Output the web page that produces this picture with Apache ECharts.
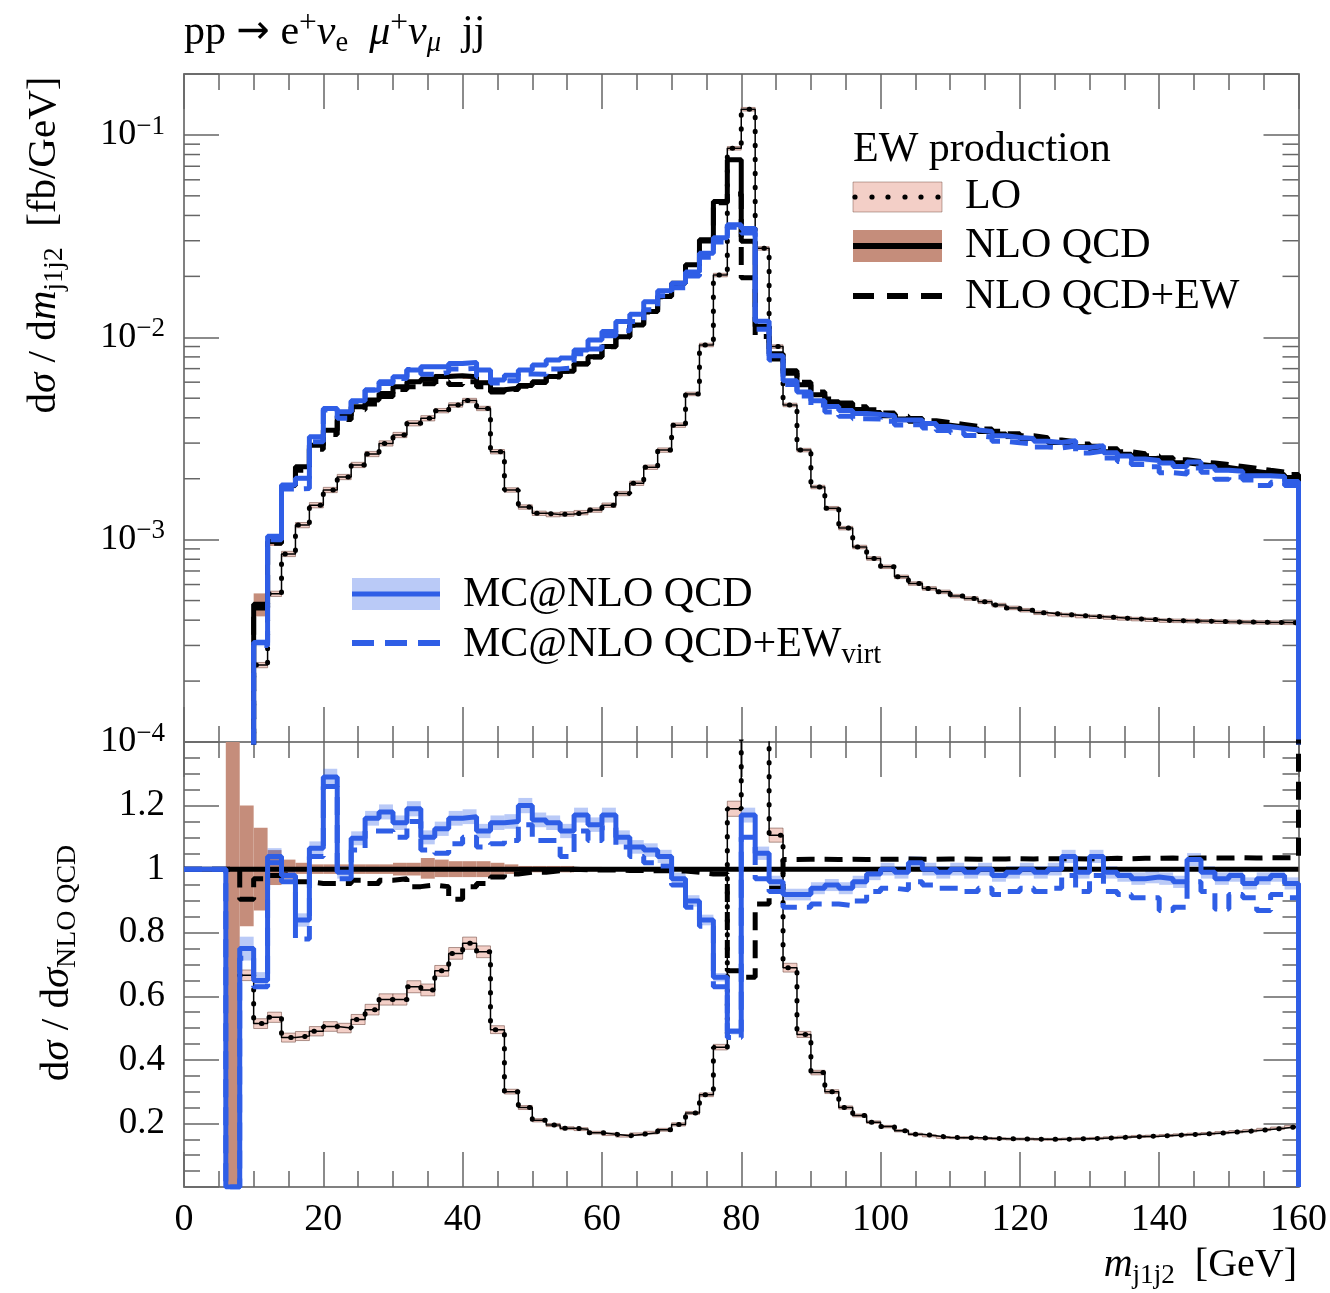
<!DOCTYPE html>
<html>
<head>
<meta charset="utf-8">
<script src="https://cdn.jsdelivr.net/npm/echarts@6/dist/echarts.min.js"></script>
<style>
  html, body { margin: 0; padding: 0; background: #fff; }
  #chart { width: 1330px; height: 1293px; }
</style>
</head>
<body>
<div id="chart"></div>
<script>
// ---------------------------------------------------------------------------
// m_j1j2 distribution, 2 GeV bins from 0 to 160 GeV
// ---------------------------------------------------------------------------
const binEdges = [0,2,4,6,8,10,12,14,16,18,20,22,24,26,28,30,32,34,36,38,40,42,44,46,48,50,52,54,56,58,
  60,62,64,66,68,70,72,74,76,78,80,82,84,86,88,90,92,94,96,98,100,102,104,106,108,110,112,114,116,118,
  120,122,124,126,128,130,132,134,136,138,140,142,144,146,148,150,152,154,156,158,160];

const xTickValues = [0, 20, 40, 60, 80, 100, 120, 140, 160];

// dσ/dm [fb/GeV] per bin (null = empty bin)
const nloQcd = [
  null, null, null, null, null, 4.8e-4, 9.8e-4, 1.85e-3, 2.29e-3, 2.93e-3,
  3.47e-3, 4.1e-3, 4.54e-3, 4.9e-3, 5.28e-3, 5.69e-3, 6.03e-3, 6.2e-3, 6.4e-3, 6.45e-3,
  6.38e-3, 5.96e-3, 5.5e-3, 5.6e-3, 5.78e-3, 6.03e-3, 6.4e-3, 6.8e-3, 7.4e-3, 8.02e-3,
  9.0e-3, 1.007e-2, 1.15e-2, 1.34e-2, 1.59e-2, 1.85e-2, 2.28e-2, 3.03e-2, 4.69e-2, 7.54e-2,
  2.98e-2, 1.13e-2, 8.3e-3, 6.64e-3, 5.82e-3, 5.2e-3, 4.8e-3, 4.6e-3, 4.4e-3, 4.25e-3,
  4.1e-3, 3.95e-3, 3.85e-3, 3.75e-3, 3.68e-3, 3.6e-3, 3.52e-3, 3.42e-3, 3.33e-3, 3.24e-3,
  3.16e-3, 3.09e-3, 3.02e-3, 2.96e-3, 2.88e-3, 2.8e-3, 2.72e-3, 2.64e-3, 2.58e-3, 2.52e-3,
  2.46e-3, 2.4e-3, 2.35e-3, 2.31e-3, 2.27e-3, 2.22e-3, 2.17e-3, 2.13e-3, 2.09e-3, 2.03e-3
];
const nloQcdEw = [
  null, null, null, null, null, 4.6e-4, 9.6e-4, 1.82e-3, 2.2e-3, 2.8e-3,
  3.31e-3, 3.92e-3, 4.38e-3, 4.68e-3, 5.1e-3, 5.52e-3, 5.7e-3, 5.9e-3, 6.05e-3, 5.84e-3,
  6.03e-3, 5.69e-3, 5.36e-3, 5.52e-3, 5.72e-3, 5.97e-3, 6.37e-3, 6.8e-3, 7.38e-3, 8.0e-3,
  8.97e-3, 1.004e-2, 1.146e-2, 1.335e-2, 1.585e-2, 1.84e-2, 2.26e-2, 2.99e-2, 4.62e-2, 5.1e-2,
  1.97e-2, 1.01e-2, 7.8e-3, 6.84e-3, 6.0e-3, 5.36e-3, 4.95e-3, 4.74e-3, 4.53e-3, 4.38e-3,
  4.23e-3, 4.07e-3, 3.97e-3, 3.87e-3, 3.79e-3, 3.71e-3, 3.63e-3, 3.52e-3, 3.43e-3, 3.34e-3,
  3.26e-3, 3.19e-3, 3.11e-3, 3.05e-3, 2.97e-3, 2.89e-3, 2.81e-3, 2.72e-3, 2.66e-3, 2.6e-3,
  2.54e-3, 2.48e-3, 2.43e-3, 2.39e-3, 2.35e-3, 2.3e-3, 2.25e-3, 2.2e-3, 2.16e-3, 2.1e-3
];
const lo = [
  null, null, null, null, null, 2.4e-4, 5.4e-4, 8.5e-4, 1.18e-3, 1.48e-3,
  1.76e-3, 2.04e-3, 2.34e-3, 2.65e-3, 2.99e-3, 3.29e-3, 3.76e-3, 3.98e-3, 4.34e-3, 4.63e-3,
  4.87e-3, 4.45e-3, 2.72e-3, 1.76e-3, 1.45e-3, 1.35e-3, 1.33e-3, 1.34e-3, 1.36e-3, 1.4e-3,
  1.48e-3, 1.69e-3, 1.9e-3, 2.28e-3, 2.77e-3, 3.68e-3, 5.25e-3, 9.16e-3, 2.03e-2, 8.59e-2,
  0.134, 2.75e-2, 9.0e-3, 4.63e-3, 2.77e-3, 1.82e-3, 1.43e-3, 1.14e-3, 9.2e-4, 8.07e-4,
  7.34e-4, 6.55e-4, 6.07e-4, 5.74e-4, 5.52e-4, 5.26e-4, 5.12e-4, 4.93e-4, 4.75e-4, 4.6e-4,
  4.48e-4, 4.35e-4, 4.28e-4, 4.24e-4, 4.19e-4, 4.16e-4, 4.12e-4, 4.08e-4, 4.05e-4, 4.02e-4,
  3.98e-4, 3.97e-4, 3.96e-4, 3.95e-4, 3.93e-4, 3.92e-4, 3.91e-4, 3.9e-4, 3.89e-4, 3.88e-4
];
const mcNloQcd = [
  null, null, null, null, null, 3.1e-4, 1.04e-3, 1.86e-3, 2.01e-3, 3.22e-3,
  4.45e-3, 4.29e-3, 4.86e-3, 5.49e-3, 6.03e-3, 6.38e-3, 6.89e-3, 7.16e-3, 7.16e-3, 7.43e-3,
  7.5e-3, 6.9e-3, 6.15e-3, 6.5e-3, 6.9e-3, 7.3e-3, 7.72e-3, 7.9e-3, 8.65e-3, 9.7e-3,
  1.067e-2, 1.195e-2, 1.3e-2, 1.5e-2, 1.7e-2, 1.85e-2, 2.1e-2, 2.6e-2, 3.1e-2, 3.6e-2,
  3.45e-2, 1.2e-2, 8.1e-3, 6.1e-3, 5.36e-3, 4.85e-3, 4.55e-3, 4.35e-3, 4.2e-3, 4.15e-3,
  4.1e-3, 3.9e-3, 3.9e-3, 3.75e-3, 3.62e-3, 3.55e-3, 3.48e-3, 3.42e-3, 3.26e-3, 3.2e-3,
  3.16e-3, 3.06e-3, 3.02e-3, 3.08e-3, 2.85e-3, 2.91e-3, 2.69e-3, 2.59e-3, 2.5e-3, 2.46e-3,
  2.39e-3, 2.3e-3, 2.42e-3, 2.29e-3, 2.2e-3, 2.18e-3, 2.07e-3, 2.07e-3, 2.05e-3, 1.94e-3
];
const mcNloQcdEwVirt = [
  null, null, null, null, null, 3.0e-4, 1.0e-3, 1.78e-3, 1.79e-3, 3.05e-3,
  4.37e-3, 3.98e-3, 4.81e-3, 5.49e-3, 5.91e-3, 6.26e-3, 6.93e-3, 6.57e-3, 6.72e-3, 6.97e-3,
  7.02e-3, 6.38e-3, 5.94e-3, 6.1e-3, 6.59e-3, 6.57e-3, 6.98e-3, 7.07e-3, 8.29e-3, 8.74e-3,
  1.017e-2, 1.077e-2, 1.196e-2, 1.367e-2, 1.606e-2, 1.758e-2, 2.006e-2, 2.485e-2, 2.955e-2, 3.5e-2,
  3.28e-2, 1.096e-2, 7.72e-3, 5.84e-3, 5.12e-3, 4.63e-3, 4.27e-3, 4.07e-3, 3.96e-3, 3.95e-3,
  3.85e-3, 3.69e-3, 3.7e-3, 3.56e-3, 3.46e-3, 3.38e-3, 3.27e-3, 3.21e-3, 3.06e-3, 3.01e-3,
  2.97e-3, 2.87e-3, 2.84e-3, 2.9e-3, 2.68e-3, 2.74e-3, 2.53e-3, 2.43e-3, 2.35e-3, 2.29e-3,
  2.14e-3, 2.11e-3, 2.26e-3, 2.15e-3, 1.99e-3, 2.04e-3, 1.97e-3, 1.85e-3, 1.92e-3, 1.85e-3
];

// ratios to NLO QCD
const loRatio = [
  null, null, null, null, 0.666, 0.514, 0.534, 0.47, 0.475, 0.49,
  0.505, 0.50, 0.527, 0.558, 0.59, 0.59, 0.63, 0.62, 0.68, 0.735,
  0.767, 0.74, 0.495, 0.30, 0.25, 0.21, 0.195, 0.185, 0.182, 0.171,
  0.166, 0.161, 0.166, 0.171, 0.18, 0.197, 0.233, 0.29, 0.44, 1.19,
  4.5, 2.4, 1.107, 0.69, 0.48, 0.36, 0.30, 0.25, 0.225, 0.204,
  0.19, 0.177, 0.166, 0.161, 0.156, 0.155, 0.155, 0.153, 0.152, 0.151,
  0.151, 0.150, 0.150, 0.151, 0.152, 0.153, 0.155, 0.157, 0.159, 0.160,
  0.162, 0.164, 0.166, 0.168, 0.171, 0.174, 0.177, 0.181, 0.185, 0.190
];
const nloRatio = [
  1,1,1,1,1,1,1,1,1,1, 1,1,1,1,1,1,1,1,1,1, 1,1,1,1,1,1,1,1,1,1, 1,1,1,1,1,1,1,1,1,1,
  1,1,1,1,1,1,1,1,1,1, 1,1,1,1,1,1,1,1,1,1, 1,1,1,1,1,1,1,1,1,1, 1,1,1,1,1,1,1,1,1,1
];
const nloEwRatio = [
  1, 1, 1, 1, 0.905, 0.97, 0.98, 0.985, 0.96, 0.955,
  0.955, 0.955, 0.965, 0.955, 0.965, 0.97, 0.945, 0.95, 0.945, 0.905,
  0.945, 0.955, 0.975, 0.985, 0.99, 0.99, 0.995, 1.0, 0.998, 0.997,
  0.997, 0.996, 0.996, 0.995, 0.995, 0.994, 0.99, 0.985, 0.985, 0.68,
  0.66, 0.89, 0.94, 1.03, 1.031, 1.031, 1.03, 1.031, 1.03, 1.031,
  1.031, 1.032, 1.031, 1.031, 1.032, 1.032, 1.031, 1.032, 1.032, 1.033,
  1.032, 1.033, 1.033, 1.033, 1.032, 1.033, 1.034, 1.033, 1.034, 1.034,
  1.035, 1.034, 1.035, 1.035, 1.035, 1.036, 1.035, 1.036, 1.036, 1.036
];
const mcRatio = [
  1, 1, 1, 0, 0.75, 0.65, 1.04, 0.98, 0.84, 1.066,
  1.29, 0.99, 1.097, 1.16, 1.18, 1.146, 1.19, 1.10, 1.127, 1.16,
  1.165, 1.12, 1.146, 1.15, 1.2, 1.155, 1.146, 1.12, 1.17, 1.14,
  1.17, 1.10, 1.07, 1.06, 1.04, 0.97, 0.90, 0.84, 0.66, 0.49,
  1.17, 1.05, 0.96, 0.92, 0.92, 0.94, 0.95, 0.94, 0.96, 0.985,
  1.0, 0.99, 1.02, 1.0, 0.99, 1.0, 0.99, 1.0, 0.98, 0.99,
  1.0, 0.99, 1.0, 1.04, 0.99, 1.04, 0.99, 0.98, 0.97, 0.975,
  0.97, 0.96, 1.03, 0.99, 0.97, 0.98, 0.955, 0.97, 0.98, 0.955
];
const mcEwRatio = [
  1, 1, 1, 0, 0.72, 0.63, 1.02, 0.96, 0.78, 1.04,
  1.26, 0.97, 1.06, 1.12, 1.12, 1.10, 1.15, 1.06, 1.05, 1.08,
  1.10, 1.07, 1.08, 1.09, 1.14, 1.09, 1.09, 1.04, 1.12, 1.09,
  1.13, 1.07, 1.04, 1.02, 1.01, 0.95, 0.88, 0.82, 0.63, 0.47,
  1.10, 0.97, 0.93, 0.88, 0.88, 0.89, 0.89, 0.885, 0.90, 0.93,
  0.94, 0.935, 0.96, 0.95, 0.94, 0.94, 0.93, 0.94, 0.92, 0.93,
  0.94, 0.93, 0.94, 0.98, 0.93, 0.98, 0.93, 0.92, 0.91, 0.91,
  0.87, 0.88, 0.96, 0.93, 0.875, 0.92, 0.91, 0.87, 0.92, 0.91
];

// NLO QCD scale band, relative to NLO QCD
const nloBandLo = [
  null, null, null, 0, 0.82, 0.87, 0.95, 0.97, 0.985, 0.985,
  0.985, 0.985, 0.985, 0.985, 0.985, 0.98, 0.98, 0.97, 0.975, 0.975,
  0.975, 0.975, 0.98, 0.985, 0.99, 0.99, 0.99, 0.99, 0.993, 0.993,
  0.995, 0.995, 0.995, 0.995, 0.995, 0.995, 0.995, 0.995, 0.995, 0.995,
  0.995, 0.995, 0.995, 0.995, 0.995, 0.995, 0.995, 0.995, 0.995, 0.995,
  0.995, 0.995, 0.995, 0.995, 0.995, 0.995, 0.995, 0.995, 0.995, 0.995,
  0.995, 0.995, 0.995, 0.995, 0.995, 0.995, 0.995, 0.995, 0.995, 0.995,
  0.995, 0.995, 0.995, 0.995, 0.995, 0.995, 0.995, 0.995, 0.995, 0.995
];
const nloBandHi = [
  null, null, null, 1.4, 1.2, 1.13, 1.06, 1.03, 1.02, 1.015,
  1.015, 1.015, 1.015, 1.015, 1.015, 1.02, 1.02, 1.035, 1.03, 1.025,
  1.025, 1.025, 1.02, 1.015, 1.01, 1.01, 1.01, 1.01, 1.007, 1.007,
  1.005, 1.005, 1.005, 1.005, 1.005, 1.005, 1.005, 1.005, 1.005, 1.005,
  1.005, 1.005, 1.005, 1.005, 1.005, 1.005, 1.005, 1.005, 1.005, 1.005,
  1.005, 1.005, 1.005, 1.005, 1.005, 1.005, 1.005, 1.005, 1.005, 1.005,
  1.005, 1.005, 1.005, 1.005, 1.005, 1.005, 1.005, 1.005, 1.005, 1.005,
  1.005, 1.005, 1.005, 1.005, 1.005, 1.005, 1.005, 1.005, 1.005, 1.005
];
// relative half-widths of the LO and MC@NLO bands
const loBandRel = [
  null, null, null, null, 0.025, 0.03, 0.03, 0.03, 0.03, 0.03,
  0.03, 0.03, 0.03, 0.03, 0.03, 0.03, 0.03, 0.03, 0.025, 0.025,
  0.025, 0.025, 0.025, 0.025, 0.025, 0.025, 0.025, 0.025, 0.025, 0.025,
  0.025, 0.025, 0.025, 0.025, 0.025, 0.025, 0.02, 0.02, 0.02, 0.02,
  0.02, 0.02, 0.02, 0.02, 0.02, 0.02, 0.02, 0.02, 0.02, 0.02,
  0.02, 0.02, 0.02, 0.02, 0.02, 0.02, 0.02, 0.02, 0.02, 0.02,
  0.02, 0.02, 0.02, 0.02, 0.02, 0.02, 0.02, 0.02, 0.02, 0.02,
  0.02, 0.02, 0.02, 0.02, 0.02, 0.02, 0.02, 0.02, 0.02, 0.02
];
const mcBandRel = [
  null, null, null, null, 0.05, 0.04, 0.025, 0.025, 0.025, 0.02,
  0.02, 0.02, 0.02, 0.02, 0.02, 0.02, 0.02, 0.02, 0.02, 0.02,
  0.02, 0.02, 0.02, 0.02, 0.02, 0.02, 0.02, 0.02, 0.02, 0.02,
  0.02, 0.02, 0.02, 0.02, 0.02, 0.02, 0.02, 0.02, 0.02, 0.02,
  0.02, 0.02, 0.02, 0.02, 0.02, 0.02, 0.02, 0.02, 0.02, 0.02,
  0.02, 0.02, 0.02, 0.02, 0.02, 0.02, 0.02, 0.02, 0.02, 0.02,
  0.02, 0.02, 0.02, 0.02, 0.02, 0.02, 0.02, 0.02, 0.02, 0.02,
  0.02, 0.02, 0.02, 0.02, 0.02, 0.02, 0.02, 0.02, 0.02, 0.02
];

// minor ticks of the logarithmic axis
const logMinorTicks = [2e-4,3e-4,4e-4,5e-4,6e-4,7e-4,8e-4,9e-4, 2e-3,3e-3,4e-3,5e-3,6e-3,7e-3,8e-3,9e-3,
  2e-2,3e-2,4e-2,5e-2,6e-2,7e-2,8e-2,9e-2];

// ---------------------------------------------------------------------------
// styling
// ---------------------------------------------------------------------------
const FONT = '"Liberation Serif", "DejaVu Serif", serif';
const FRAME = '#808080';
const TICK = '#666666';
const BLUE = '#2f5ee6';
const BROWN = '#c58d7b';
const PINK = '#f3cfc7';
const LIGHT_BLUE = 'rgba(47,94,230,0.33)';
const LOG_FLOOR = 1e-7;   // empty bins fall below the lower edge of the log axis

// histogram outline: one point per left bin edge, plus the right edge (and optional drop)
function histPoints(values, empty, close) {
  const n = values.length;
  const pts = values.map((v, i) => [binEdges[i], v == null ? empty : v]);
  pts.push([binEdges[n], values[n - 1]]);
  if (close !== undefined) pts.push([binEdges[n], close]);
  return pts;
}

function histLine(data, axis, lineStyle) {
  return {
    type: 'line', xAxisIndex: axis, yAxisIndex: axis, data,
    step: 'end', symbol: 'none', showSymbol: false, clip: true,
    silent: true, animation: false, lineStyle
  };
}

function bandSeries(low, high, axis, fill, stroke) {
  const data = [];
  low.forEach((l, i) => {
    if (l != null && high[i] != null) data.push([binEdges[i], binEdges[i + 1], l, high[i]]);
  });
  return {
    type: 'custom', xAxisIndex: axis, yAxisIndex: axis, data, silent: true, animation: false,
    encode: { x: [0, 1], y: [2, 3] },
    renderItem(params, api) {
      const cs = params.coordSys;
      const a = api.coord([api.value(0), api.value(3)]);
      const b = api.coord([api.value(1), api.value(2)]);
      const top = Math.max(cs.y, Math.min(a[1], b[1]));
      const bot = Math.min(cs.y + cs.height, Math.max(a[1], b[1]));
      if (!(bot > top)) return null;
      return {
        type: 'rect',
        shape: { x: a[0], y: top, width: b[0] - a[0], height: bot - top },
        style: { fill, stroke: stroke || null, lineWidth: stroke ? 1 : 0 }
      };
    }
  };
}

// derived band edges
const scaleBy = (vals, f) => vals.map((v, i) => (v == null || f[i] == null) ? null : v * f[i]);
const spread = (vals, rel, sign) => vals.map((v, i) => (v == null || rel[i] == null) ? null : v * (1 + sign * rel[i]));

const solidBlack = { color: '#000', width: 5 };
const dashedBlack = { color: '#000', width: 5, type: [18, 10] };
const solidBlue = { color: BLUE, width: 5 };
const dashedBlue = { color: BLUE, width: 5, type: [18, 10] };
const thinBlack = { color: '#000', width: 1.5 };
const dotsBlack = { color: '#000', width: 5, type: [0.5, 13.5], cap: 'round' };

const series = [
  // upper panel: absolute distributions
  bandSeries(scaleBy(nloQcd, nloBandLo), scaleBy(nloQcd, nloBandHi), 0, BROWN),
  bandSeries(spread(lo, loBandRel, -1), spread(lo, loBandRel, 1), 0, PINK, 'rgba(110,70,60,0.55)'),
  bandSeries(spread(mcNloQcd, mcBandRel, -1), spread(mcNloQcd, mcBandRel, 1), 0, LIGHT_BLUE),
  histLine(histPoints(lo, LOG_FLOOR, LOG_FLOOR), 0, thinBlack),
  histLine(histPoints(lo, LOG_FLOOR, LOG_FLOOR), 0, dotsBlack),
  histLine(histPoints(nloQcd, LOG_FLOOR, LOG_FLOOR), 0, solidBlack),
  histLine(histPoints(nloQcdEw, LOG_FLOOR, LOG_FLOOR), 0, dashedBlack),
  histLine(histPoints(mcNloQcd, LOG_FLOOR, LOG_FLOOR), 0, solidBlue),
  histLine(histPoints(mcNloQcdEwVirt, LOG_FLOOR, LOG_FLOOR), 0, dashedBlue),

  // lower panel: ratios to NLO QCD
  bandSeries(nloBandLo, nloBandHi, 2, BROWN),
  bandSeries(spread(loRatio, loBandRel, -1), spread(loRatio, loBandRel, 1), 2, PINK, 'rgba(110,70,60,0.55)'),
  bandSeries(spread(mcRatio, mcBandRel, -1), spread(mcRatio, mcBandRel, 1), 2, LIGHT_BLUE),
  histLine(histPoints(loRatio, null), 2, thinBlack),
  histLine(histPoints(loRatio, null), 2, dotsBlack),
  histLine(histPoints(nloRatio, null), 2, solidBlack),
  histLine(histPoints(nloEwRatio, null, 2), 2, dashedBlack),
  histLine(histPoints(mcRatio, null, 0), 2, solidBlue),
  histLine(histPoints(mcEwRatio, null, 0), 2, dashedBlue),

  // minor ticks (2..9 per decade) on both sides of the log axis
  {
    type: 'custom', xAxisIndex: 0, yAxisIndex: 0, silent: true, animation: false,
    data: logMinorTicks.map(v => [80, v]), encode: { x: 0, y: 1 },
    renderItem(params, api) {
      const cs = params.coordSys;
      const y = api.coord([80, api.value(1)])[1];
      const st = { stroke: TICK, lineWidth: 1.5 };
      return {
        type: 'group', children: [
          { type: 'line', shape: { x1: cs.x, y1: y, x2: cs.x + 16, y2: y }, style: st },
          { type: 'line', shape: { x1: cs.x + cs.width, y1: y, x2: cs.x + cs.width - 16, y2: y }, style: st }
        ]
      };
    }
  }
];

// ---------------------------------------------------------------------------
// axes
// ---------------------------------------------------------------------------
const lineCfg = { show: true, onZero: false, lineStyle: { color: FRAME, width: 2 } };
const tickCfg = { show: true, inside: true, length: 35, lineStyle: { color: TICK, width: 1.5 } };
const minorCfg = { show: true, splitNumber: 4, length: 16, lineStyle: { color: TICK, width: 1.5 } };

function xAxisCfg(grid, position, withLabels) {
  return {
    type: 'value', gridIndex: grid, position, min: xTickValues[0], max: xTickValues[xTickValues.length - 1],
    interval: xTickValues[1] - xTickValues[0],
    axisLine: lineCfg, axisTick: tickCfg, minorTick: minorCfg,
    splitLine: { show: false }, minorSplitLine: { show: false },
    axisLabel: withLabels
      ? { show: true, margin: 14, color: '#000', fontFamily: FONT, fontSize: 38 }
      : { show: false }
  };
}

function logAxisCfg(position, withLabels) {
  return {
    type: 'log', logBase: 10, gridIndex: 0, position, min: 1e-4, max: 0.2,
    axisLine: lineCfg, axisTick: tickCfg, minorTick: { show: false },
    splitLine: { show: false }, minorSplitLine: { show: false },
    axisLabel: withLabels ? {
      show: true, margin: 19, color: '#000',
      formatter: v => {
        const e = Math.log10(v), r = Math.round(e);
        if (Math.abs(e - r) > 1e-6) return '';
        return '{b|10}{s|\u2212' + (-r) + '}';
      },
      rich: {
        b: { fontFamily: FONT, fontSize: 36, lineHeight: 44, color: '#000' },
        s: { fontFamily: FONT, fontSize: 27, lineHeight: 28, verticalAlign: 'top', color: '#000' }
      }
    } : { show: false }
  };
}

function ratioAxisCfg(position, withLabels) {
  return {
    type: 'value', gridIndex: 1, position, min: 0, max: 1.4, interval: 0.2,
    axisLine: lineCfg, axisTick: tickCfg, minorTick: minorCfg,
    splitLine: { show: false }, minorSplitLine: { show: false },
    axisLabel: withLabels ? {
      show: true, margin: 19, color: '#000', fontFamily: FONT, fontSize: 37,
      formatter: v => (v < 0.01 || v > 1.39) ? '' : (Math.abs(v - 1) < 1e-9 ? '1' : v.toFixed(1))
    } : { show: false }
  };
}

// ---------------------------------------------------------------------------
// texts and legends
// ---------------------------------------------------------------------------
function richSet(size) {
  return {
    t: { fontFamily: FONT, fontSize: size, lineHeight: size * 1.2, color: '#000' },
    i: { fontFamily: FONT, fontSize: size, fontStyle: 'italic', lineHeight: size * 1.2, color: '#000' },
    a: { fontFamily: '"DejaVu Sans", sans-serif', fontSize: size * 0.95, lineHeight: size * 1.2, color: '#000' },
    s: { fontFamily: FONT, fontSize: size * 0.68, lineHeight: size * 0.55, verticalAlign: 'bottom', color: '#000' },
    si: { fontFamily: FONT, fontSize: size * 0.68, fontStyle: 'italic', lineHeight: size * 0.55, verticalAlign: 'bottom', color: '#000' },
    p: { fontFamily: FONT, fontSize: size * 0.75, lineHeight: size * 0.8, verticalAlign: 'top', color: '#000' }
  };
}

function label(x, y, text, size, align, rotation) {
  return {
    type: 'text', x, y, rotation: rotation || 0, z: 100, silent: true,
    style: { text, rich: richSet(size), fontFamily: FONT, fontSize: size, align: align || 'left', verticalAlign: 'middle', fill: '#000' }
  };
}

const legendDots = [855, 872, 888, 905, 921, 938].map(cx => ({
  type: 'circle', z: 101, silent: true, shape: { cx, cy: 197, r: 2.6 }, style: { fill: '#000' }
}));

const graphics = [
  label(184, 33, '{t|pp }{a|\u2192}{t| e}{p|+}{i|\u03bd}{s|e}{t|  }{i|\u03bc}{p|+}{i|\u03bd}{si|\u03bc}{t|  jj}', 42, 'left'),
  label(44, 245, '{t|d}{i|\u03c3}{t| / d}{i|m}{s|j1j2}{t|  [fb/GeV]}', 41, 'center', Math.PI / 2),
  label(57, 963, '{t|d}{i|\u03c3}{t| / d}{i|\u03c3}{s|NLO QCD}', 41, 'center', Math.PI / 2),
  label(1297, 1265, '{i|m}{s|j1j2}{t|  [GeV]}', 40, 'right'),

  // EW production legend
  label(853, 150, '{t|EW production}', 42, 'left'),
  { type: 'rect', z: 100, silent: true, shape: { x: 853, y: 182, width: 89, height: 30 }, style: { fill: PINK, stroke: 'rgba(110,70,60,0.45)', lineWidth: 1 } },
  ...legendDots,
  label(965, 197, '{t|LO}', 42, 'left'),
  { type: 'rect', z: 100, silent: true, shape: { x: 853, y: 230, width: 89, height: 32 }, style: { fill: BROWN } },
  { type: 'line', z: 101, silent: true, shape: { x1: 853, y1: 246, x2: 942, y2: 246 }, style: { stroke: '#000', lineWidth: 6 } },
  label(965, 246, '{t|NLO QCD}', 42, 'left'),
  { type: 'line', z: 101, silent: true, shape: { x1: 853, y1: 296, x2: 942, y2: 296 }, style: { stroke: '#000', lineWidth: 6, lineDash: [21, 13] } },
  label(965, 297, '{t|NLO QCD+EW}', 42, 'left'),

  // MC@NLO legend
  { type: 'rect', z: 100, silent: true, shape: { x: 352, y: 578, width: 88, height: 32 }, style: { fill: LIGHT_BLUE } },
  { type: 'line', z: 101, silent: true, shape: { x1: 352, y1: 594, x2: 440, y2: 594 }, style: { stroke: BLUE, lineWidth: 5 } },
  label(463, 595, '{t|MC@NLO QCD}', 42, 'left'),
  { type: 'line', z: 101, silent: true, shape: { x1: 352, y1: 643, x2: 440, y2: 643 }, style: { stroke: BLUE, lineWidth: 6, lineDash: [22, 11] } },
  label(463, 645, '{t|MC@NLO QCD+EW}{s|virt}', 42, 'left')
];

// ---------------------------------------------------------------------------
const chart = echarts.init(document.getElementById('chart'), null, { renderer: 'canvas' });
chart.setOption({
  animation: false,
  backgroundColor: '#fff',
  grid: [
    { left: 184, right: 31.5, top: 74, height: 668, outerBoundsMode: 'none', containLabel: false },
    { left: 184, right: 31.5, top: 742, height: 445, outerBoundsMode: 'none', containLabel: false }
  ],
  xAxis: [
    xAxisCfg(0, 'bottom', false),
    xAxisCfg(0, 'top', false),
    xAxisCfg(1, 'bottom', true),
    xAxisCfg(1, 'top', false)
  ],
  yAxis: [
    logAxisCfg('left', true),
    logAxisCfg('right', false),
    ratioAxisCfg('left', true),
    ratioAxisCfg('right', false)
  ],
  series,
  graphic: graphics
});
</script>
</body>
</html>
